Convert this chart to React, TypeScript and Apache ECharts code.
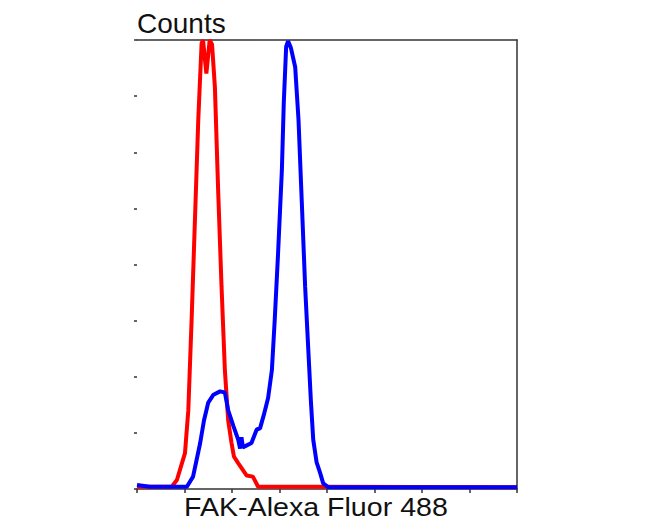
import React, { useEffect, useRef } from "react";
import * as echarts from "echarts";

// Fluorescence channel (arbitrary linear units) and counts
const xTicks = [0, 100, 200, 300, 400, 500, 600, 700, 800];
const yTicks = [0, 50, 100, 150, 200, 250, 300, 350, 400];

const isotypeX = [0, 73, 84, 101, 108, 115, 122, 129, 136, 139, 146, 153, 158, 164, 171, 178, 185, 192, 199, 204, 213, 231, 244, 255, 392, 800];
const isotypeY = [2, 2, 8, 32, 70, 151, 240, 329, 397, 400, 370, 400, 396, 358, 264, 180, 106, 61, 41, 29, 23, 12, 11, 2, 2, 1.5];

const fakX = [0, 27, 105, 118, 133, 141, 150, 161, 175, 185, 192, 203, 213, 217, 220, 223, 227, 241, 252, 259, 267, 276, 284, 290, 297, 305, 309, 314, 318, 324, 333, 340, 347, 354, 361, 366, 371, 378, 385, 392, 403, 800];
const fakY = [3.5, 2, 2, 11, 41, 61, 77, 84, 87, 86, 70, 56, 44, 36, 46, 37, 38, 41, 53, 54, 66, 81, 106, 151, 210, 284, 344, 394, 399, 393, 376, 329, 255, 180, 121, 79, 44, 24, 15, 5, 1.5, 1.5];

const yLabel = "Counts";
const xLabel = "FAK-Alexa Fluor 488";

export default function App() {
  const ref = useRef<HTMLDivElement>(null);
  useEffect(() => {
    if (!ref.current) return;
    const chart = echarts.init(ref.current, null, { renderer: "svg" });
    const font = "'Liberation Sans', Arial, sans-serif";
    chart.setOption({
      animation: false,
      backgroundColor: "#ffffff",
      grid: { left: 137, top: 40, right: 133, bottom: 43 },
      xAxis: [
        {
          type: "value",
          min: xTicks[0],
          max: xTicks[xTicks.length - 1],
          interval: xTicks[1] - xTicks[0],
          axisLine: { show: true, lineStyle: { color: "#333", width: 1.5 } },
          axisTick: { show: true, inside: false, length: 4, lineStyle: { color: "#333", width: 1.5 } },
          axisLabel: { show: false },
          splitLine: { show: false },
        },
        {
          type: "value",
          position: "top",
          min: xTicks[0],
          max: xTicks[xTicks.length - 1],
          axisLine: { show: true, onZero: false, lineStyle: { color: "#333", width: 1.5 } },
          axisTick: { show: false },
          axisLabel: { show: false },
          splitLine: { show: false },
        },
      ],
      yAxis: [
        {
          type: "value",
          min: yTicks[0],
          max: yTicks[yTicks.length - 1],
          interval: yTicks[1] - yTicks[0],
          axisLine: { show: false },
          axisTick: { show: true, inside: false, length: 3, lineStyle: { color: "#333", width: 1.5 } },
          axisLabel: { show: false },
          splitLine: { show: false },
        },
        {
          type: "value",
          position: "right",
          min: yTicks[0],
          max: yTicks[yTicks.length - 1],
          axisLine: { show: true, onZero: false, lineStyle: { color: "#333", width: 1.5 } },
          axisTick: { show: false },
          axisLabel: { show: false },
          splitLine: { show: false },
        },
      ],
      series: [
        {
          type: "line",
          name: "Isotype",
          data: isotypeX.map((x, i) => [x, isotypeY[i]]),
          showSymbol: false,
          clip: false,
          lineStyle: { color: "#ff0000", width: 4 },
          itemStyle: { color: "#ff0000" },
        },
        {
          type: "line",
          name: "FAK",
          data: fakX.map((x, i) => [x, fakY[i]]),
          showSymbol: false,
          clip: false,
          lineStyle: { color: "#0000ff", width: 4 },
          itemStyle: { color: "#0000ff" },
        },
      ],
      graphic: [
        {
          type: "text",
          x: 137,
          y: 9,
          style: { text: yLabel, font: `28px ${font}`, fill: "#111" },
        },
        {
          type: "text",
          x: 184,
          y: 494,
          scaleX: 1.1,
          style: { text: xLabel, font: `26px ${font}`, fill: "#111" },
        },
      ],
    });
    return () => chart.dispose();
  }, []);
  return (
    <div
      ref={ref}
      style={{ position: "fixed", left: 0, top: 0, width: 650, height: 532, background: "#fff" }}
    />
  );
}
